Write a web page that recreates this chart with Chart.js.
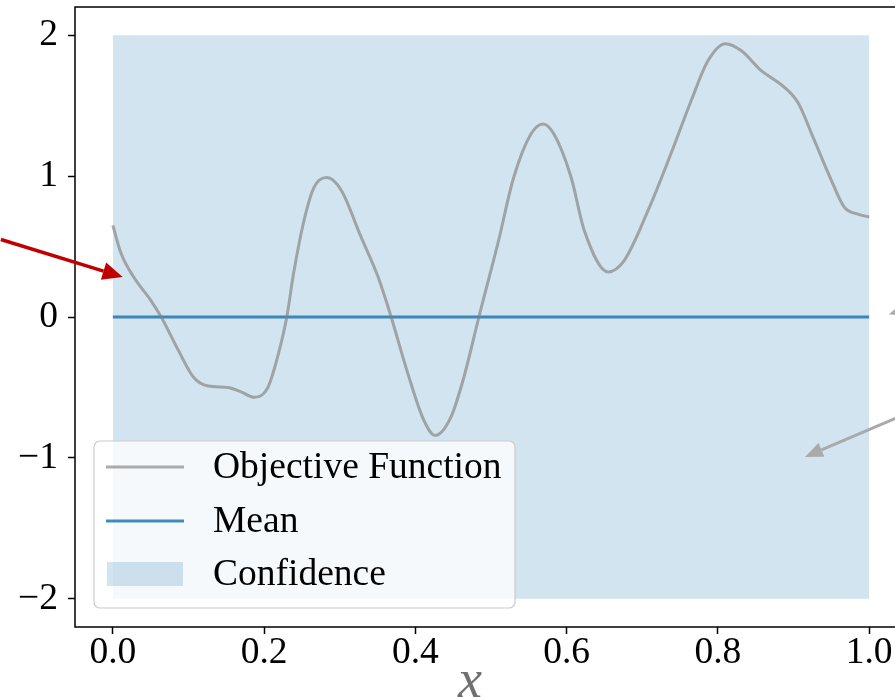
<!DOCTYPE html>
<html>
<head>
<meta charset="utf-8">
<script src="https://cdn.jsdelivr.net/npm/chart.js@4.4.1/dist/chart.umd.min.js"></script>
<style>
    html, body { margin: 0; padding: 0; background: #fff; overflow: hidden; }
    #plot { display: block; }
</style>
</head>
<body>
<canvas id="plot" width="920" height="700"></canvas>
<script>
// ticks
const xTickValues = [0, 0.2, 0.4, 0.6, 0.8, 1.0];
const xTickLabels = ["0.0", "0.2", "0.4", "0.6", "0.8", "1.0"];
const yTickValues = [-2, -1, 0, 1, 2];
const yTickLabels = ["\u22122", "\u22121", "0", "1", "2"];

// objective function
const objectiveX = [0.0, 0.011, 0.028, 0.050, 0.064, 0.086, 0.107, 0.126, 0.152, 0.169, 0.187, 0.205, 0.218, 0.230,
    0.239, 0.253, 0.266, 0.283, 0.302, 0.328, 0.351, 0.368, 0.390, 0.411, 0.426, 0.447, 0.464, 0.484,
    0.509, 0.530, 0.553, 0.569, 0.583, 0.606, 0.623, 0.655, 0.676, 0.708, 0.738, 0.765, 0.787,
    0.810, 0.831, 0.857, 0.888, 0.906, 0.927, 0.950, 0.967, 0.985, 1.0];
const objectiveY = [0.65, 0.45, 0.28, 0.12, 0.0, -0.23, -0.43, -0.49, -0.50, -0.53, -0.57, -0.50, -0.28, 0.0,
    0.31, 0.69, 0.92, 0.99, 0.90, 0.57, 0.28, 0.0, -0.40, -0.73, -0.84, -0.71, -0.43, 0.0,
    0.52, 0.99, 1.30, 1.37, 1.30, 0.99, 0.62, 0.32, 0.40, 0.76, 1.16, 1.54, 1.82,
    1.94, 1.89, 1.75, 1.63, 1.52, 1.26, 0.97, 0.78, 0.73, 0.71];

const meanX = [0, 1];
const meanY = [0, 0];

const confidenceX = [0, 1];
const confidenceUpper = [2, 2];
const confidenceLower = [-2, -2];

// annotation arrows in data units: [tailX, tailY, tipX, tipY]
const redArrow = [-0.148, 0.55, 0.013, 0.284];
const grayArrows = [
    [1.12, 0.17, 1.026, 0.02],
    [1.122, -0.52, 0.915, -0.993],
];

const SERIF = "'Liberation Serif', 'Times New Roman', serif";
const GRAY_LINE = "rgba(128, 128, 128, 0.65)";
const MEAN_LINE = "rgba(31, 119, 180, 0.85)";
const BAND = "rgba(31, 119, 180, 0.2)";

function toPoints(xs, ys) {
    let pts = [];
    for (let i = 0; i < xs.length; i++) {
        pts.push({ x: xs[i], y: ys[i] });
    }
    return pts;
}

function drawArrow(ctx, x0, y0, x1, y1, color, width, headLen, headWidth) {
    let ang = Math.atan2(y1 - y0, x1 - x0);
    let bx = x1 - headLen * Math.cos(ang);
    let by = y1 - headLen * Math.sin(ang);
    ctx.save();
    ctx.strokeStyle = color;
    ctx.fillStyle = color;
    ctx.lineWidth = width;
    ctx.beginPath();
    ctx.moveTo(x0, y0);
    ctx.lineTo(bx, by);
    ctx.stroke();
    ctx.beginPath();
    ctx.moveTo(x1, y1);
    ctx.lineTo(bx + headWidth / 2 * Math.sin(ang), by - headWidth / 2 * Math.cos(ang));
    ctx.lineTo(bx - headWidth / 2 * Math.sin(ang), by + headWidth / 2 * Math.cos(ang));
    ctx.closePath();
    ctx.fill();
    ctx.restore();
}

const framePlugin = {
    id: "frame",
    afterDatasetsDraw(chart) {
        const ctx = chart.ctx;
        const a = chart.chartArea;
        const xs = chart.scales.x;
        const ys = chart.scales.y;

        // spines
        ctx.save();
        ctx.strokeStyle = "#000";
        ctx.lineWidth = 1.5;
        ctx.strokeRect(a.left, a.top, a.right - a.left, a.bottom - a.top);
        ctx.restore();

        // legend box
        const bx = 94, by = 441, bw = 421, bh = 167;
        ctx.save();
        ctx.beginPath();
        ctx.roundRect(bx, by, bw, bh, 6);
        ctx.fillStyle = "rgba(255, 255, 255, 0.8)";
        ctx.fill();
        ctx.strokeStyle = "#cccccc";
        ctx.lineWidth = 1.2;
        ctx.stroke();

        const rows = [
            { label: chart.data.datasets[0].label, kind: "line", color: GRAY_LINE, y: 467 },
            { label: chart.data.datasets[1].label, kind: "line", color: MEAN_LINE, y: 521 },
            { label: chart.data.datasets[2].label, kind: "box", color: BAND, y: 574 },
        ];
        ctx.font = "37.5px " + SERIF;
        ctx.textBaseline = "middle";
        ctx.textAlign = "left";
        for (const r of rows) {
            if (r.kind == "line") {
                ctx.strokeStyle = r.color;
                ctx.lineWidth = 3;
                ctx.beginPath();
                ctx.moveTo(106, r.y);
                ctx.lineTo(184, r.y);
                ctx.stroke();
            } else {
                ctx.fillStyle = r.color;
                ctx.fillRect(107, r.y - 12, 76, 24);
            }
            ctx.fillStyle = "#000";
            ctx.fillText(r.label, 213, r.y + 1);
        }
        ctx.restore();

        // arrows
        drawArrow(ctx,
            xs.getPixelForValue(redArrow[0]), ys.getPixelForValue(redArrow[1]),
            xs.getPixelForValue(redArrow[2]), ys.getPixelForValue(redArrow[3]),
            "#c00000", 3.5, 20, 18);
        for (const g of grayArrows) {
            drawArrow(ctx,
                xs.getPixelForValue(g[0]), ys.getPixelForValue(g[1]),
                xs.getPixelForValue(g[2]), ys.getPixelForValue(g[3]),
                "#aaaaaa", 3, 18, 15);
        }

        // axis label
        ctx.save();
        ctx.font = "italic 54px " + SERIF;
        ctx.fillStyle = "#707070";
        ctx.textAlign = "center";
        ctx.textBaseline = "alphabetic";
        ctx.fillText("x", 470, 697);
        ctx.restore();
    },
};

new Chart(document.getElementById("plot"), {
    type: "line",
    data: {
        datasets: [
            {
                label: "Objective Function",
                data: toPoints(objectiveX, objectiveY),
                borderColor: GRAY_LINE,
                borderWidth: 3,
                pointRadius: 0,
                cubicInterpolationMode: "monotone",
                fill: false,
                order: 1,
            },
            {
                label: "Mean",
                data: toPoints(meanX, meanY),
                borderColor: MEAN_LINE,
                borderWidth: 3,
                pointRadius: 0,
                fill: false,
                order: 2,
            },
            {
                label: "Confidence",
                data: toPoints(confidenceX, confidenceUpper),
                borderWidth: 0,
                borderColor: "rgba(0,0,0,0)",
                backgroundColor: BAND,
                pointRadius: 0,
                fill: "+1",
                order: 3,
            },
            {
                label: "Confidence lower",
                data: toPoints(confidenceX, confidenceLower),
                borderWidth: 0,
                borderColor: "rgba(0,0,0,0)",
                pointRadius: 0,
                fill: false,
                order: 4,
            },
        ],
    },
    options: {
        responsive: false,
        animation: false,
        layout: {
            padding: { left: 0, right: 13, top: 7, bottom: 0 },
        },
        plugins: {
            legend: { display: false },
            tooltip: { enabled: false },
        },
        scales: {
            x: {
                type: "linear",
                min: -0.05,
                max: 1.05,
                afterFit: function (scale) {
                    scale.height = 73;
                    scale.paddingLeft = 0;
                    scale.paddingRight = 0;
                },
                afterBuildTicks: function (scale) {
                    scale.ticks = xTickValues.map(v => ({ value: v }));
                },
                ticks: {
                    autoSkip: false,
                    maxRotation: 0,
                    padding: 0,
                    color: "#000",
                    font: { family: SERIF, size: 37.5, lineHeight: 1 },
                    callback: function (value) {
                        let i = xTickValues.indexOf(value);
                        return i >= 0 ? xTickLabels[i] : "";
                    },
                },
                grid: {
                    drawOnChartArea: false,
                    drawTicks: true,
                    tickLength: 7,
                    tickColor: "#000",
                    tickWidth: 1.5,
                },
                border: { display: false },
            },
            y: {
                type: "linear",
                min: -2.2,
                max: 2.2,
                afterFit: function (scale) {
                    scale.width = 75;
                    scale.paddingTop = 0;
                    scale.paddingBottom = 0;
                },
                afterBuildTicks: function (scale) {
                    scale.ticks = yTickValues.map(v => ({ value: v }));
                },
                ticks: {
                    autoSkip: false,
                    padding: 10,
                    color: "#000",
                    font: { family: SERIF, size: 37.5, lineHeight: 1 },
                    callback: function (value) {
                        let i = yTickValues.indexOf(value);
                        return i >= 0 ? yTickLabels[i] : "";
                    },
                },
                grid: {
                    drawOnChartArea: false,
                    drawTicks: true,
                    tickLength: 7,
                    tickColor: "#000",
                    tickWidth: 1.5,
                },
                border: { display: false },
            },
        },
    },
    plugins: [framePlugin],
});
</script>
</body>
</html>
